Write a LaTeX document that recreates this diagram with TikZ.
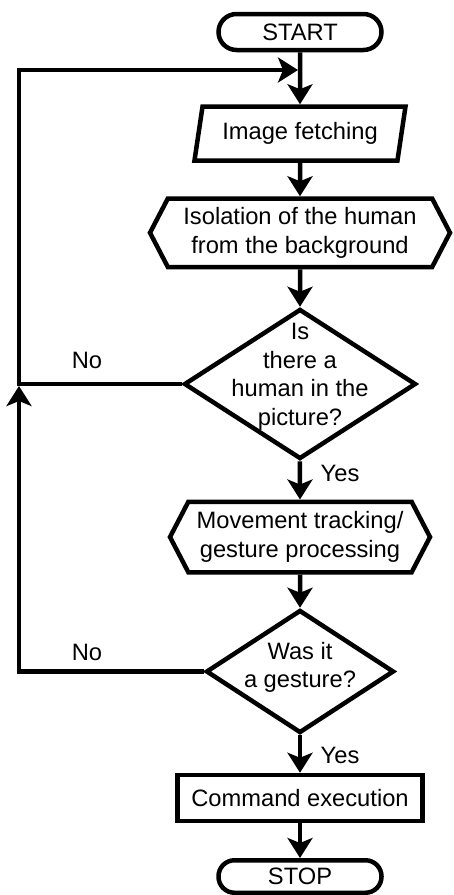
\documentclass[tikz,border=0pt]{standalone}
\usepackage{fontspec}
\setmainfont{Liberation Sans}
\usetikzlibrary{shapes.geometric, shapes.symbols, arrows.meta}

\begin{document}
\begin{tikzpicture}[x=1pt, y=-1pt, line width=4.5pt,
  every node/.style={font=\fontsize{23.7}{28.5}\selectfont, align=center, inner sep=0pt},
  term/.style={draw, rectangle, rounded corners=18pt, minimum width=163pt, minimum height=36pt},
  io/.style={draw, trapezium, trapezium left angle=70, trapezium right angle=110, trapezium stretches body, minimum width=211pt, minimum height=54pt},
  prep/.style={draw, signal, signal to=west and east, signal pointer angle=125},
  decision/.style={draw, diamond},
  process/.style={draw, rectangle, minimum width=245pt, minimum height=46pt},
  flow/.style={-{Stealth[length=20pt, width=25pt, inset=5pt]}}]
  \useasboundingbox (0,0) rectangle (453,895);
  \node [term] (start) at (300,32) {START};
  \node [io] (fetch) at (300,133.5) {Image fetching};
  \node [prep, minimum width=300pt, minimum height=68.5pt] (isolate) at (300,232.75) {Isolation of the human\\from the background};
  \node [decision, minimum width=232pt, minimum height=150pt, label={[yshift=7pt]center:Is\\there a\\human in the\\picture?}] (human) at (300,384) {};
  \node [prep, minimum width=260pt, minimum height=70.5pt] (track) at (300,537) {Movement tracking/\\gesture processing};
  \node [decision, minimum width=188pt, minimum height=123pt, label={[yshift=4pt]center:Was it\\a gesture?}] (gesture) at (300,671.5) {};
  \node [process] (command) at (300,798) {Command execution};
  \node [term, rounded corners=16pt, minimum height=32.5pt] (stop) at (300,876.5) {STOP};
  \node (yes1) at (340,473) {Yes};
  \node (yes2) at (340,755) {Yes};
  \node (no1) at (87,360) {No};
  \node (no2) at (87,652) {No};
  \coordinate (corner) at (19,70);
  \coordinate (loop) at (298,70);
  \coordinate (back) at (19,386);
  \draw [flow] (start) -- (fetch);
  \draw [flow] (fetch) -- (isolate);
  \draw [flow] (isolate) -- (human);
  \draw [flow] (human) -- (track);
  \draw [flow] (track) -- (gesture);
  \draw [flow] (gesture) -- (command);
  \draw [flow] (command) -- (stop);
  \draw [flow] (human.west) -| (corner) -- (loop);
  \draw [flow] (gesture.west) -| (back);
\end{tikzpicture}
\end{document}
